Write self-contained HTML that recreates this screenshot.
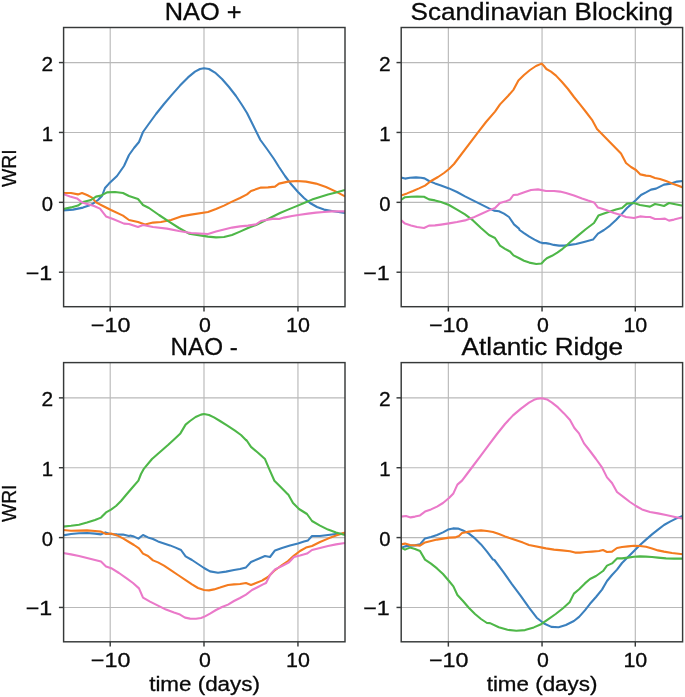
<!DOCTYPE html><html><head><meta charset="utf-8"><style>html,body{margin:0;padding:0;background:#fff;}svg{display:block;}text{font-family:"Liberation Sans",sans-serif;fill:#0a0a0a;stroke:#0a0a0a;stroke-width:0.3px;-webkit-font-smoothing:antialiased;}svg{will-change:transform;}</style></head><body>
<svg width="685" height="697" viewBox="0 0 685 697">
<rect width="685" height="697" fill="#fff"/>
<line x1="110.20" y1="27.50" x2="110.20" y2="306.70" stroke="#b9b9b9" stroke-width="1.15"/>
<line x1="204.00" y1="27.50" x2="204.00" y2="306.70" stroke="#b9b9b9" stroke-width="1.15"/>
<line x1="297.95" y1="27.50" x2="297.95" y2="306.70" stroke="#b9b9b9" stroke-width="1.15"/>
<line x1="63.60" y1="62.57" x2="345.00" y2="62.57" stroke="#b9b9b9" stroke-width="1.15"/>
<line x1="63.60" y1="132.45" x2="345.00" y2="132.45" stroke="#b9b9b9" stroke-width="1.15"/>
<line x1="63.60" y1="202.35" x2="345.00" y2="202.35" stroke="#b9b9b9" stroke-width="1.15"/>
<line x1="63.60" y1="272.22" x2="345.00" y2="272.22" stroke="#b9b9b9" stroke-width="1.15"/>
<clipPath id="cp00"><rect x="63.60" y="27.50" width="281.40" height="279.20"/></clipPath>
<g clip-path="url(#cp00)" fill="none" stroke-width="2.1" stroke-linejoin="round" stroke-linecap="butt">
<path d="M63.0,210.4 L73.0,209.6 L83.0,207.6 L89.0,205.6 L93.0,203.6 L98.0,200.0 L102.0,196.0 L105.0,188.0 L109.0,183.6 L117.0,176.0 L124.0,166.0 L129.0,155.0 L134.0,148.0 L134.0,148.0 L139.0,142.0 L143.0,132.0 L148.0,125.0 L156.0,114.0 L164.0,104.0 L172.0,94.6 L180.0,85.6 L188.0,77.4 L195.0,71.6 L200.0,69.0 L204.0,68.2 L209.0,69.0 L215.0,72.6 L222.0,79.0 L229.0,87.0 L236.0,96.0 L242.0,105.0 L247.0,113.0 L251.0,121.0 L260.4,140.0 L267.0,149.0 L274.0,159.0 L279.0,167.0 L285.0,176.0 L291.0,184.0 L298.0,192.0 L304.0,198.0 L310.0,203.0 L317.0,207.0 L324.0,209.6 L332.0,211.0 L345.0,213.0" stroke="#3b80be"/>
<path d="M63.0,193.0 L71.0,193.0 L78.0,194.4 L82.0,193.0 L87.0,195.0 L92.0,197.6 L96.0,202.4 L103.0,206.0 L111.0,210.0 L123.0,215.6 L129.0,220.0 L138.0,222.0 L145.0,224.4 L153.0,222.6 L161.0,222.0 L171.0,220.0 L181.0,216.4 L191.0,214.6 L208.0,212.0 L216.0,209.0 L224.0,205.6 L232.0,201.6 L240.0,198.0 L247.0,194.4 L251.0,191.0 L261.0,187.6 L268.0,187.4 L275.0,186.6 L279.0,183.6 L288.0,181.6 L297.0,181.0 L306.0,181.6 L316.0,183.6 L326.0,187.0 L336.0,191.6 L345.0,196.4" stroke="#f47b1f"/>
<path d="M63.0,209.0 L71.0,207.4 L78.0,205.6 L83.0,202.0 L91.0,200.0 L96.0,196.6 L101.0,195.6 L107.0,192.4 L115.0,192.0 L123.0,193.0 L129.0,196.0 L138.0,199.0 L143.0,205.0 L149.0,208.0 L159.0,215.0 L169.0,221.6 L179.0,228.0 L189.0,233.6 L208.0,236.6 L216.0,237.4 L224.0,237.0 L232.0,235.0 L240.0,231.6 L248.0,228.0 L256.0,225.0 L264.0,221.0 L272.0,217.0 L280.0,213.0 L288.0,209.6 L296.0,206.4 L304.0,203.0 L312.0,199.6 L320.0,197.0 L328.0,194.6 L336.0,192.6 L345.0,190.0" stroke="#4eb748"/>
<path d="M63.0,194.0 L70.0,196.4 L77.0,198.4 L82.0,202.4 L89.0,204.4 L94.0,206.0 L100.0,208.6 L106.0,216.4 L113.0,219.0 L124.0,223.6 L129.0,224.0 L138.0,227.0 L143.0,225.0 L153.0,227.0 L167.0,228.6 L179.0,231.0 L191.0,233.0 L208.0,234.0 L216.0,231.6 L224.0,229.4 L232.0,227.6 L240.0,226.4 L248.0,225.6 L256.0,224.4 L261.0,221.0 L268.0,219.6 L274.0,218.6 L279.0,219.0 L284.0,217.6 L292.0,216.0 L300.0,214.8 L308.0,213.6 L316.0,212.6 L324.0,212.0 L332.0,211.4 L345.0,211.4" stroke="#ea79c9"/>
</g>
<rect x="63.60" y="27.50" width="281.40" height="279.20" fill="none" stroke="#363939" stroke-width="1.45"/>
<line x1="110.20" y1="306.70" x2="110.20" y2="311.50" stroke="#363939" stroke-width="1.45"/>
<text transform="translate(90.85,331.60) scale(1.1603,1)" font-size="20.1">−10</text>
<line x1="204.00" y1="306.70" x2="204.00" y2="311.50" stroke="#363939" stroke-width="1.45"/>
<text transform="translate(199.07,331.60) scale(1.0616,1)" font-size="20.1">0</text>
<line x1="297.95" y1="306.70" x2="297.95" y2="311.50" stroke="#363939" stroke-width="1.45"/>
<text transform="translate(286.07,331.60) scale(1.0678,1)" font-size="20.1">10</text>
<line x1="58.90" y1="62.57" x2="63.60" y2="62.57" stroke="#363939" stroke-width="1.45"/>
<text transform="translate(41.62,70.70) scale(1.0407,1)" font-size="20.1">2</text>
<line x1="58.90" y1="132.45" x2="63.60" y2="132.45" stroke="#363939" stroke-width="1.45"/>
<text transform="translate(41.85,140.60) scale(1.0154,1)" font-size="20.1">1</text>
<line x1="58.90" y1="202.35" x2="63.60" y2="202.35" stroke="#363939" stroke-width="1.45"/>
<text transform="translate(41.71,210.50) scale(1.0095,1)" font-size="20.1">0</text>
<line x1="58.90" y1="272.22" x2="63.60" y2="272.22" stroke="#363939" stroke-width="1.45"/>
<text transform="translate(25.75,280.10) scale(1.1555,1)" font-size="20.1">−1</text>
<text transform="translate(164.72,19.70) scale(1.0410,1)" font-size="24.4">NAO +</text>
<text transform="translate(15.67,186.90) rotate(-90) translate(-0.08,0) scale(0.9521,1)" font-size="20.3">WRI</text>
<line x1="448.35" y1="27.50" x2="448.35" y2="306.70" stroke="#b9b9b9" stroke-width="1.15"/>
<line x1="542.05" y1="27.50" x2="542.05" y2="306.70" stroke="#b9b9b9" stroke-width="1.15"/>
<line x1="635.30" y1="27.50" x2="635.30" y2="306.70" stroke="#b9b9b9" stroke-width="1.15"/>
<line x1="401.20" y1="62.57" x2="682.60" y2="62.57" stroke="#b9b9b9" stroke-width="1.15"/>
<line x1="401.20" y1="132.45" x2="682.60" y2="132.45" stroke="#b9b9b9" stroke-width="1.15"/>
<line x1="401.20" y1="202.35" x2="682.60" y2="202.35" stroke="#b9b9b9" stroke-width="1.15"/>
<line x1="401.20" y1="272.22" x2="682.60" y2="272.22" stroke="#b9b9b9" stroke-width="1.15"/>
<clipPath id="cp01"><rect x="401.20" y="27.50" width="281.40" height="279.20"/></clipPath>
<g clip-path="url(#cp01)" fill="none" stroke-width="2.1" stroke-linejoin="round" stroke-linecap="butt">
<path d="M401.0,177.6 L405.0,178.6 L410.0,177.8 L416.0,177.4 L421.0,177.8 L424.6,178.4 L429.0,181.0 L435.0,183.4 L441.0,185.6 L449.0,188.4 L457.0,192.0 L465.0,196.4 L473.0,200.4 L481.0,204.4 L489.0,208.4 L494.0,210.6 L499.0,211.2 L504.0,213.6 L509.0,217.0 L514.0,224.4 L519.0,228.6 L519.6,230.0 L524.0,233.1 L529.3,236.6 L534.5,239.6 L539.8,242.3 L542.4,243.1 L545.9,243.1 L548.5,243.6 L553.8,244.9 L559.1,245.6 L564.3,245.6 L570.0,244.9 L576.0,244.0 L584.0,242.0 L593.0,239.6 L598.0,233.6 L604.0,230.0 L610.0,225.6 L616.0,220.0 L622.0,213.6 L627.0,208.0 L632.0,203.6 L636.0,200.0 L641.0,195.0 L646.0,192.4 L651.0,189.6 L656.0,188.6 L664.0,184.6 L671.0,183.6 L677.0,181.6 L683.0,181.0" stroke="#3b80be"/>
<path d="M401.0,195.6 L407.0,193.4 L413.0,191.0 L419.0,188.4 L425.0,185.6 L431.0,181.0 L438.0,177.0 L444.0,173.0 L449.0,169.0 L454.0,164.0 L478.0,132.4 L486.0,122.0 L495.0,111.6 L500.0,104.4 L508.0,96.0 L513.6,89.6 L518.4,80.4 L524.0,75.0 L530.0,70.0 L536.0,66.0 L541.6,63.6 L544.0,66.0 L546.4,69.0 L551.0,71.6 L556.0,75.6 L562.0,82.0 L568.0,89.0 L574.0,97.0 L580.0,104.4 L586.0,112.0 L592.4,120.4 L597.0,129.0 L621.0,153.6 L626.0,163.0 L631.0,167.0 L636.0,170.0 L640.4,174.4 L646.0,175.6 L650.0,176.0 L655.0,178.0 L660.0,179.0 L666.0,181.0 L672.0,183.4 L677.0,185.2 L683.0,187.4" stroke="#f47b1f"/>
<path d="M401.0,200.0 L405.0,197.2 L411.0,196.8 L417.0,196.6 L424.0,196.8 L429.0,199.4 L435.0,200.4 L441.0,202.0 L449.0,205.0 L457.0,209.6 L465.0,214.4 L473.0,220.4 L481.0,228.0 L489.0,235.0 L495.0,238.0 L500.0,245.6 L505.0,248.8 L509.0,251.0 L510.0,251.5 L513.5,255.4 L518.8,258.0 L524.0,260.7 L529.3,262.6 L536.3,264.0 L541.5,263.5 L543.7,261.1 L546.8,258.2 L552.0,255.8 L557.3,252.6 L562.6,248.8 L566.9,245.3 L570.0,242.3 L578.0,235.6 L586.0,229.0 L594.0,223.0 L598.4,215.6 L604.0,213.6 L610.0,211.6 L616.0,209.6 L622.0,208.0 L627.0,203.6 L634.0,203.0 L640.0,205.0 L646.0,206.0 L650.0,206.6 L655.0,204.0 L660.0,205.0 L664.0,206.0 L669.0,203.0 L674.0,204.0 L683.0,205.8" stroke="#4eb748"/>
<path d="M401.0,220.0 L405.0,223.6 L411.0,225.4 L417.0,227.0 L424.0,228.0 L429.0,225.6 L435.0,225.4 L441.0,224.6 L449.0,223.4 L457.0,222.0 L465.0,220.4 L473.0,217.6 L481.0,214.0 L489.0,210.4 L495.0,208.0 L500.0,203.0 L505.0,201.6 L510.0,199.6 L513.4,195.0 L518.0,194.6 L525.0,192.0 L531.0,190.0 L538.0,189.4 L546.0,191.0 L554.0,191.0 L560.0,191.6 L566.0,193.0 L574.0,195.6 L582.0,198.6 L588.0,200.6 L594.0,202.4 L598.0,207.6 L606.0,210.0 L614.0,213.0 L621.0,215.0 L626.0,217.0 L634.0,218.0 L640.0,216.4 L646.0,217.0 L650.0,217.0 L655.0,219.0 L660.0,219.0 L665.0,218.6 L669.0,220.6 L674.0,219.6 L683.0,217.2" stroke="#ea79c9"/>
</g>
<rect x="401.20" y="27.50" width="281.40" height="279.20" fill="none" stroke="#363939" stroke-width="1.45"/>
<line x1="448.35" y1="306.70" x2="448.35" y2="311.50" stroke="#363939" stroke-width="1.45"/>
<text transform="translate(429.00,331.60) scale(1.1603,1)" font-size="20.1">−10</text>
<line x1="542.05" y1="306.70" x2="542.05" y2="311.50" stroke="#363939" stroke-width="1.45"/>
<text transform="translate(537.12,331.60) scale(1.0616,1)" font-size="20.1">0</text>
<line x1="635.30" y1="306.70" x2="635.30" y2="311.50" stroke="#363939" stroke-width="1.45"/>
<text transform="translate(623.42,331.60) scale(1.0678,1)" font-size="20.1">10</text>
<line x1="396.50" y1="62.57" x2="401.20" y2="62.57" stroke="#363939" stroke-width="1.45"/>
<text transform="translate(379.12,70.70) scale(1.0407,1)" font-size="20.1">2</text>
<line x1="396.50" y1="132.45" x2="401.20" y2="132.45" stroke="#363939" stroke-width="1.45"/>
<text transform="translate(379.35,140.60) scale(1.0154,1)" font-size="20.1">1</text>
<line x1="396.50" y1="202.35" x2="401.20" y2="202.35" stroke="#363939" stroke-width="1.45"/>
<text transform="translate(379.21,210.50) scale(1.0095,1)" font-size="20.1">0</text>
<line x1="396.50" y1="272.22" x2="401.20" y2="272.22" stroke="#363939" stroke-width="1.45"/>
<text transform="translate(363.25,280.10) scale(1.1555,1)" font-size="20.1">−1</text>
<text transform="translate(410.61,19.60) scale(1.0699,1)" font-size="24.4">Scandinavian Blocking</text>
<line x1="110.20" y1="362.60" x2="110.20" y2="641.80" stroke="#b9b9b9" stroke-width="1.15"/>
<line x1="204.00" y1="362.60" x2="204.00" y2="641.80" stroke="#b9b9b9" stroke-width="1.15"/>
<line x1="297.95" y1="362.60" x2="297.95" y2="641.80" stroke="#b9b9b9" stroke-width="1.15"/>
<line x1="63.60" y1="397.86" x2="345.00" y2="397.86" stroke="#b9b9b9" stroke-width="1.15"/>
<line x1="63.60" y1="467.72" x2="345.00" y2="467.72" stroke="#b9b9b9" stroke-width="1.15"/>
<line x1="63.60" y1="537.59" x2="345.00" y2="537.59" stroke="#b9b9b9" stroke-width="1.15"/>
<line x1="63.60" y1="607.45" x2="345.00" y2="607.45" stroke="#b9b9b9" stroke-width="1.15"/>
<clipPath id="cp10"><rect x="63.60" y="362.60" width="281.40" height="279.20"/></clipPath>
<g clip-path="url(#cp10)" fill="none" stroke-width="2.1" stroke-linejoin="round" stroke-linecap="butt">
<path d="M63.0,535.4 L71.0,534.0 L79.0,533.2 L87.0,533.0 L95.0,533.6 L101.0,534.4 L105.4,532.4 L110.0,534.0 L117.0,534.4 L123.0,534.6 L129.0,536.0 L130.0,535.6 L134.0,536.6 L138.4,538.6 L143.0,535.0 L148.0,537.4 L153.0,539.0 L158.0,541.4 L164.0,543.4 L170.0,545.4 L175.0,547.4 L181.0,550.0 L185.6,556.4 L192.0,560.0 L198.0,564.0 L204.0,568.0 L210.0,571.4 L218.0,572.8 L226.0,571.6 L234.0,570.0 L240.0,569.0 L246.0,567.4 L251.0,562.0 L258.0,559.0 L265.0,556.0 L270.0,557.0 L275.0,550.4 L282.0,548.0 L290.0,545.6 L298.0,543.6 L304.0,541.6 L308.0,540.4 L312.0,536.0 L320.0,536.0 L328.0,535.0 L336.0,534.0 L345.0,533.6" stroke="#3b80be"/>
<path d="M63.0,530.0 L71.0,530.8 L79.0,530.6 L87.0,530.4 L95.0,531.0 L101.0,531.6 L106.0,534.0 L111.0,533.6 L117.0,535.4 L123.0,538.4 L129.0,542.0 L134.0,545.0 L139.0,548.4 L143.0,553.6 L148.0,556.0 L153.0,560.4 L158.0,562.4 L164.0,565.6 L170.0,569.6 L178.0,575.0 L186.0,580.4 L192.0,584.4 L198.0,588.0 L204.0,590.0 L209.0,590.4 L214.0,589.4 L220.0,587.6 L228.0,585.0 L234.0,584.4 L240.0,584.0 L246.0,583.0 L251.0,585.0 L256.0,583.0 L262.0,580.6 L263.0,580.0 L268.0,577.0 L274.0,571.0 L282.0,565.0 L288.0,561.0 L294.0,555.6 L300.0,551.0 L306.0,547.6 L312.0,546.0 L320.0,542.0 L328.0,538.6 L336.0,535.6 L345.0,532.6" stroke="#f47b1f"/>
<path d="M63.0,526.6 L71.0,525.8 L79.0,524.8 L87.0,522.6 L95.0,520.0 L101.0,517.6 L106.0,512.4 L111.0,509.6 L116.0,506.0 L120.0,502.0 L121.0,501.0 L126.0,495.0 L132.0,488.0 L138.4,480.6 L141.0,474.0 L144.0,468.6 L152.0,459.0 L160.0,452.0 L168.0,445.0 L174.0,439.4 L180.4,433.4 L185.6,424.6 L190.0,421.0 L195.6,417.0 L201.0,414.6 L204.0,414.0 L209.0,415.0 L214.0,417.4 L220.0,421.0 L227.0,425.4 L235.0,430.6 L241.0,435.0 L246.4,440.4 L246.4,440.0 L251.0,446.9 L258.0,452.7 L265.0,459.1 L269.7,470.2 L274.4,480.7 L281.4,487.7 L288.0,494.4 L288.4,494.7 L293.0,503.0 L299.0,509.0 L307.0,514.0 L312.0,521.0 L320.0,525.6 L328.0,529.6 L336.0,532.6 L345.0,535.0" stroke="#4eb748"/>
<path d="M63.0,553.0 L71.0,554.4 L79.0,556.0 L87.0,558.0 L95.0,560.0 L101.0,561.4 L106.0,566.4 L112.0,568.6 L119.0,573.0 L127.0,578.6 L133.0,583.0 L139.0,588.4 L143.0,597.6 L150.0,601.6 L158.0,605.6 L166.0,609.6 L174.0,612.6 L180.0,614.6 L185.0,617.6 L190.0,618.6 L196.0,618.8 L201.0,618.0 L205.0,616.4 L210.0,613.6 L216.0,610.0 L222.0,607.0 L228.0,604.6 L234.0,601.0 L240.0,598.0 L246.0,594.6 L252.0,590.0 L258.0,587.0 L263.0,584.4 L266.0,583.0 L270.0,575.0 L275.0,569.4 L282.0,566.0 L289.0,562.4 L294.0,557.0 L300.0,555.6 L307.0,553.6 L312.0,550.0 L320.0,548.0 L328.0,546.0 L336.0,544.4 L345.0,543.0" stroke="#ea79c9"/>
</g>
<rect x="63.60" y="362.60" width="281.40" height="279.20" fill="none" stroke="#363939" stroke-width="1.45"/>
<line x1="110.20" y1="641.80" x2="110.20" y2="646.60" stroke="#363939" stroke-width="1.45"/>
<text transform="translate(90.85,666.70) scale(1.1603,1)" font-size="20.1">−10</text>
<line x1="204.00" y1="641.80" x2="204.00" y2="646.60" stroke="#363939" stroke-width="1.45"/>
<text transform="translate(199.07,666.70) scale(1.0616,1)" font-size="20.1">0</text>
<line x1="297.95" y1="641.80" x2="297.95" y2="646.60" stroke="#363939" stroke-width="1.45"/>
<text transform="translate(286.07,666.70) scale(1.0678,1)" font-size="20.1">10</text>
<line x1="58.90" y1="397.86" x2="63.60" y2="397.86" stroke="#363939" stroke-width="1.45"/>
<text transform="translate(41.62,405.99) scale(1.0407,1)" font-size="20.1">2</text>
<line x1="58.90" y1="467.72" x2="63.60" y2="467.72" stroke="#363939" stroke-width="1.45"/>
<text transform="translate(41.85,475.87) scale(1.0154,1)" font-size="20.1">1</text>
<line x1="58.90" y1="537.59" x2="63.60" y2="537.59" stroke="#363939" stroke-width="1.45"/>
<text transform="translate(41.71,545.74) scale(1.0095,1)" font-size="20.1">0</text>
<line x1="58.90" y1="607.45" x2="63.60" y2="607.45" stroke="#363939" stroke-width="1.45"/>
<text transform="translate(25.75,615.33) scale(1.1555,1)" font-size="20.1">−1</text>
<text transform="translate(170.51,354.90) scale(0.9924,1)" font-size="24.4">NAO -</text>
<text transform="translate(15.67,522.00) rotate(-90) translate(-0.08,0) scale(0.9521,1)" font-size="20.3">WRI</text>
<text transform="translate(149.16,690.90) scale(1.1150,1)" font-size="20.1">time (days)</text>
<line x1="448.35" y1="362.60" x2="448.35" y2="641.80" stroke="#b9b9b9" stroke-width="1.15"/>
<line x1="542.05" y1="362.60" x2="542.05" y2="641.80" stroke="#b9b9b9" stroke-width="1.15"/>
<line x1="635.30" y1="362.60" x2="635.30" y2="641.80" stroke="#b9b9b9" stroke-width="1.15"/>
<line x1="401.20" y1="397.86" x2="682.60" y2="397.86" stroke="#b9b9b9" stroke-width="1.15"/>
<line x1="401.20" y1="467.72" x2="682.60" y2="467.72" stroke="#b9b9b9" stroke-width="1.15"/>
<line x1="401.20" y1="537.59" x2="682.60" y2="537.59" stroke="#b9b9b9" stroke-width="1.15"/>
<line x1="401.20" y1="607.45" x2="682.60" y2="607.45" stroke="#b9b9b9" stroke-width="1.15"/>
<clipPath id="cp11"><rect x="401.20" y="362.60" width="281.40" height="279.20"/></clipPath>
<g clip-path="url(#cp11)" fill="none" stroke-width="2.1" stroke-linejoin="round" stroke-linecap="butt">
<path d="M401.0,548.0 L405.0,546.4 L410.0,545.6 L415.0,545.4 L420.0,544.4 L425.0,538.4 L431.0,537.0 L437.0,535.0 L443.0,532.4 L448.0,529.6 L453.0,528.4 L458.0,528.6 L463.0,530.4 L469.0,533.6 L475.0,538.4 L481.0,544.4 L487.0,551.6 L493.0,559.6 L494.4,560.0 L503.1,571.7 L511.9,584.1 L520.7,595.8 L529.4,608.2 L536.7,617.7 L544.0,623.5 L551.3,626.9 L558.6,627.2 L565.9,625.0 L573.9,621.0 L579.1,616.9 L584.9,610.4 L590.0,603.8 L596.0,597.0 L602.0,589.6 L607.0,581.0 L612.0,575.0 L617.0,569.6 L622.0,563.0 L628.0,557.0 L634.0,551.0 L640.0,545.0 L646.0,539.6 L652.0,534.4 L658.0,529.6 L664.0,525.0 L670.0,521.6 L676.0,518.6 L683.0,515.8" stroke="#3b80be"/>
<path d="M401.0,544.4 L405.0,543.6 L410.0,545.0 L415.0,545.2 L420.0,545.6 L425.0,542.4 L431.0,541.0 L437.0,539.6 L443.0,538.6 L449.0,537.6 L455.0,537.4 L459.0,536.0 L462.0,533.0 L469.0,531.6 L475.0,530.8 L481.0,530.4 L487.0,531.0 L493.0,532.0 L499.0,534.0 L505.0,536.4 L511.0,538.6 L517.0,540.6 L523.0,542.6 L529.0,545.0 L546.0,548.4 L554.0,549.6 L562.0,550.4 L570.0,551.2 L575.0,552.6 L580.0,552.6 L586.0,552.0 L592.0,551.6 L599.0,551.0 L603.0,550.0 L607.0,552.0 L612.0,551.6 L617.0,548.0 L622.0,547.0 L628.0,546.4 L634.0,545.8 L640.0,546.0 L646.0,546.8 L652.0,548.4 L658.0,550.4 L664.0,551.6 L672.0,553.0 L683.0,554.2" stroke="#f47b1f"/>
<path d="M401.0,547.6 L405.0,549.6 L410.0,547.6 L415.0,549.0 L420.0,551.0 L425.0,559.6 L431.0,563.6 L437.0,568.4 L443.0,574.0 L449.0,581.0 L453.4,586.4 L457.4,595.0 L463.0,601.0 L469.0,608.0 L475.0,614.0 L481.0,619.0 L487.0,623.0 L490.0,623.1 L498.8,627.2 L507.5,629.8 L516.3,630.8 L525.0,630.1 L533.8,627.4 L541.1,624.2 L548.4,619.1 L555.7,614.0 L563.0,608.2 L569.6,602.3 L573.9,593.6 L579.1,589.2 L584.9,583.4 L590.0,579.0 L596.0,576.0 L603.0,571.0 L607.0,565.6 L612.0,563.4 L617.0,558.4 L622.0,558.4 L628.0,557.6 L634.0,556.8 L640.0,556.4 L646.0,556.6 L652.0,557.0 L658.0,557.6 L666.0,558.4 L674.0,558.6 L683.0,558.6" stroke="#4eb748"/>
<path d="M401.0,516.6 L406.0,516.0 L410.6,517.4 L415.0,516.6 L420.0,515.4 L425.0,511.6 L431.0,509.4 L437.0,506.6 L443.0,503.0 L449.0,498.0 L453.4,493.4 L457.4,484.6 L462.0,480.6 L467.0,474.0 L473.0,466.0 L481.0,455.4 L489.0,444.6 L497.0,434.0 L505.0,424.0 L513.0,415.4 L521.0,408.6 L529.0,402.6 L534.0,399.8 L538.0,398.6 L542.0,398.2 L547.0,399.4 L552.0,402.6 L558.0,407.4 L564.0,413.4 L570.0,420.0 L574.4,428.0 L579.0,433.4 L584.0,443.4 L590.0,451.0 L596.0,459.0 L602.0,467.4 L607.0,477.4 L612.0,483.0 L617.0,492.0 L624.0,497.4 L630.0,502.0 L636.0,506.0 L642.0,509.4 L650.0,512.0 L658.0,513.4 L666.0,515.0 L675.0,517.0 L683.0,518.6" stroke="#ea79c9"/>
</g>
<rect x="401.20" y="362.60" width="281.40" height="279.20" fill="none" stroke="#363939" stroke-width="1.45"/>
<line x1="448.35" y1="641.80" x2="448.35" y2="646.60" stroke="#363939" stroke-width="1.45"/>
<text transform="translate(429.00,666.70) scale(1.1603,1)" font-size="20.1">−10</text>
<line x1="542.05" y1="641.80" x2="542.05" y2="646.60" stroke="#363939" stroke-width="1.45"/>
<text transform="translate(537.12,666.70) scale(1.0616,1)" font-size="20.1">0</text>
<line x1="635.30" y1="641.80" x2="635.30" y2="646.60" stroke="#363939" stroke-width="1.45"/>
<text transform="translate(623.42,666.70) scale(1.0678,1)" font-size="20.1">10</text>
<line x1="396.50" y1="397.86" x2="401.20" y2="397.86" stroke="#363939" stroke-width="1.45"/>
<text transform="translate(379.12,405.99) scale(1.0407,1)" font-size="20.1">2</text>
<line x1="396.50" y1="467.72" x2="401.20" y2="467.72" stroke="#363939" stroke-width="1.45"/>
<text transform="translate(379.35,475.87) scale(1.0154,1)" font-size="20.1">1</text>
<line x1="396.50" y1="537.59" x2="401.20" y2="537.59" stroke="#363939" stroke-width="1.45"/>
<text transform="translate(379.21,545.74) scale(1.0095,1)" font-size="20.1">0</text>
<line x1="396.50" y1="607.45" x2="401.20" y2="607.45" stroke="#363939" stroke-width="1.45"/>
<text transform="translate(363.25,615.33) scale(1.1555,1)" font-size="20.1">−1</text>
<text transform="translate(461.60,354.90) scale(1.0732,1)" font-size="24.4">Atlantic Ridge</text>
<text transform="translate(486.66,690.90) scale(1.1150,1)" font-size="20.1">time (days)</text>
</svg></body></html>
